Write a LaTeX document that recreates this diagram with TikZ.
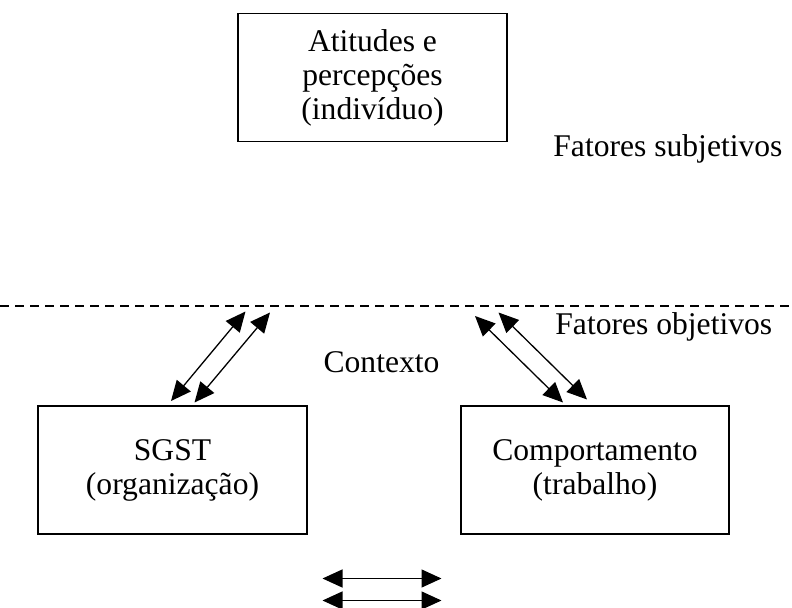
\documentclass[tikz,border=0pt]{standalone}
\usepackage{fontspec}
\setmainfont{Liberation Serif}
\usetikzlibrary{arrows.meta}

\begin{document}
\begin{tikzpicture}[x=0.5pt,y=-0.5pt,
    every node/.style={font=\fontsize{15.8pt}{17pt}\selectfont,inner sep=0pt},
    caixa/.style={draw,line width=0.65pt,align=center,minimum height=64pt},
    seta/.style={line width=0.65pt,{Triangle[length=10pt,width=9pt]}-{Triangle[length=10pt,width=9pt]}}]
    \useasboundingbox (0,0) rectangle (792,608);
    \node[caixa,minimum width=134.5pt] (A) at (372.5,77.5) {Atitudes e\\percepções\\(indivíduo)};
    \node[caixa,minimum width=134.5pt] (S) at (172.5,470) {SGST\\(organização)};
    \node[caixa,minimum width=134pt] (C) at (595,470) {Comportamento\\(trabalho)};
    \node[anchor=base west] (FS) at (553,157) {Fatores subjetivos};
    \node[anchor=base west] (FO) at (555,335) {Fatores objetivos};
    \node[anchor=base] (X) at (381.5,373) {Contexto};
    % linha tracejada
    \coordinate (L0) at (0,306);
    \coordinate (L1) at (792,306);
    \draw[line width=0.6pt,dash pattern=on 4.5pt off 3pt] (L0) -- (L1);
    % setas da esquerda
    \coordinate (s1a) at (171,401);
    \coordinate (s1b) at (245.5,311.5);
    \coordinate (s2a) at (194.5,402.5);
    \coordinate (s2b) at (270,312.5);
    \draw[seta] (s1a) -- (s1b);
    \draw[seta] (s2a) -- (s2b);
    % setas da direita
    \coordinate (c1a) at (475,316);
    \coordinate (c1b) at (563,402.5);
    \coordinate (c2a) at (498.5,312.5);
    \coordinate (c2b) at (587,399.5);
    \draw[seta] (c1a) -- (c1b);
    \draw[seta] (c2a) -- (c2b);
    % setas de baixo
    \coordinate (b1a) at (322.5,578.5);
    \coordinate (b1b) at (441.5,578.5);
    \coordinate (b2a) at (322.5,600.5);
    \coordinate (b2b) at (441.5,600.5);
    \draw[seta] (b1a) -- (b1b);
    \draw[seta] (b2a) -- (b2b);
\end{tikzpicture}
\end{document}
